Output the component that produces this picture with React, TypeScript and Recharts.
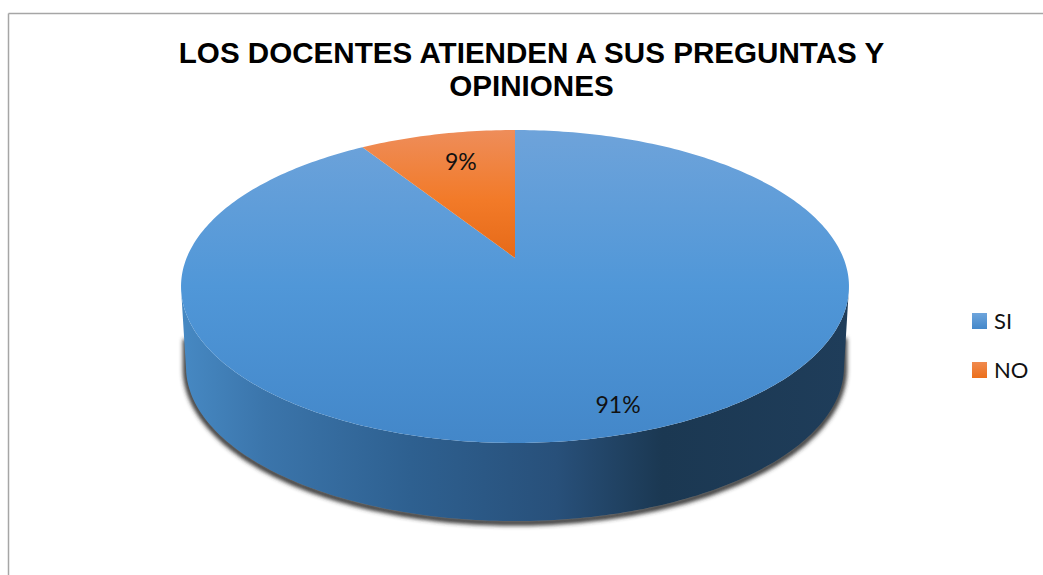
import { Pie, PieChart, Legend } from 'recharts';

const categories = ['SI', 'NO'];
const values = [91, 9];
const data = categories.map((name, i) => ({ name, value: values[i] }));

const titleLines = ['LOS DOCENTES ATIENDEN A SUS PREGUNTAS Y', 'OPINIONES'];

// the pie is seen in perspective, so the circle goes through a small projection
const PERSPECTIVE = 0.182;
const SQUASH = 0.4607;

const project = (cx: number, cy: number, r: number, deg: number) => {
  const a = (deg * Math.PI) / 180;
  const w = 1 + PERSPECTIVE * Math.sin(a);
  return {
    x: cx + (r * Math.cos(a)) / w,
    y: cy - (r * SQUASH * Math.sin(a)) / w,
  };
};

const arcAngles = (start: number, end: number) => {
  const steps = Math.max(2, Math.ceil(Math.abs(end - start)));
  return Array.from({ length: steps + 1 }, (_, i) => start + ((end - start) * i) / steps);
};

function TopSlice(props: any) {
  const { cx, cy, outerRadius, startAngle, endAngle, payload } = props;
  const pts = arcAngles(startAngle, endAngle).map((a) => project(cx, cy, outerRadius, a));
  const d = `M${cx},${cy} ` + pts.map((p) => `L${p.x},${p.y}`).join(' ') + ' Z';
  return <path d={d} fill={payload.name === 'SI' ? 'url(#topBlue)' : 'url(#topOrange)'} />;
}

// front wall of the slice, only the part of the rim that faces the viewer
function SideSlice(props: any) {
  const { cx, cy, outerRadius, startAngle, endAngle } = props;
  const angles = arcAngles(startAngle, endAngle).filter(
    (a) => Math.sin((a * Math.PI) / 180) < -PERSPECTIVE,
  );
  if (angles.length < 2) return null;
  const top = angles.map((a) => project(cx, cy, outerRadius, a));
  const bottom = top.map((p) => ({
    x: cx + 0.985 * (p.x - cx),
    y: cy + 109 + 0.985 * (p.y - cy - 28.5),
  }));
  const wall =
    top.map((p, i) => `${i ? 'L' : 'M'}${p.x},${p.y}`).join(' ') +
    ' ' +
    [...bottom].reverse().map((p) => `L${p.x},${p.y}`).join(' ') +
    ' Z';
  // shadow runs a bit up the two ends of the wall
  const first = bottom[0];
  const last = bottom[bottom.length - 1];
  const shadow =
    `M${first.x},${first.y - 30} ` +
    bottom.map((p) => `L${p.x},${p.y + 1.5}`).join(' ') +
    ` L${last.x},${last.y - 30}`;
  return (
    <g>
      <path d={shadow} fill="none" stroke="#333333" strokeWidth={6} filter="url(#rimShadow)" />
      <path d={wall} fill="url(#sideBlue)" />
    </g>
  );
}

const RADIAN = Math.PI / 180;

function PercentLabel(props: any) {
  const { cx, cy, outerRadius, midAngle, percent } = props;
  const big = percent > 0.5;
  const reach = big ? 0.855 : 0.756;
  const u = reach * Math.cos(midAngle * RADIAN);
  const v = reach * Math.sin(midAngle * RADIAN);
  const w = 1 + PERSPECTIVE * v;
  return (
    <text
      x={cx + (outerRadius * u) / w + (big ? 11 : 7)}
      y={cy - (outerRadius * SQUASH * v) / w}
      textAnchor="middle"
      dominantBaseline="central"
      fontFamily="Lato"
      fontSize={23}
      fill="#111111"
    >
      {`${Math.round(percent * 100)}%`}
    </text>
  );
}

const swatches: Record<string, string> = {
  SI: 'linear-gradient(#6ea5dc, #4488ca)',
  NO: 'linear-gradient(#f08a4e, #ec6f1b)',
};

function LegendList({ payload }: any) {
  const names = (payload ?? []).map((entry: any) => entry.value);
  return (
    <div>
      {categories.filter((name) => names.includes(name)).map((name) => (
        <div
          key={name}
          style={{ display: 'flex', alignItems: 'center', height: 49, fontFamily: 'Lato', fontSize: 22, color: '#111111' }}
        >
          <span style={{ width: 15, height: 16, marginRight: 7, background: swatches[name] }} />
          {name}
        </div>
      ))}
    </div>
  );
}

export default function App() {
  return (
    <div style={{ position: 'absolute', left: 0, top: 0, width: 1043, height: 575, background: '#ffffff' }}>
      <PieChart width={1043} height={575} margin={{ top: 0, right: 0, bottom: 0, left: 0 }}>
        <defs>
          <linearGradient id="topBlue" gradientUnits="userSpaceOnUse" x1="0" y1="130" x2="0" y2="443">
            <stop offset="0" stopColor="#6ea3da" />
            <stop offset="0.5" stopColor="#5097d8" />
            <stop offset="1" stopColor="#4387c9" />
          </linearGradient>
          <linearGradient id="topOrange" gradientUnits="userSpaceOnUse" x1="0" y1="130" x2="0" y2="258">
            <stop offset="0" stopColor="#ee8d5a" />
            <stop offset="0.55" stopColor="#f27a28" />
            <stop offset="1" stopColor="#e66a18" />
          </linearGradient>
          <linearGradient id="sideBlue" gradientUnits="userSpaceOnUse" x1="185" y1="0" x2="848" y2="0">
            <stop offset="0" stopColor="#4688c2" />
            <stop offset="0.12" stopColor="#3b75ab" />
            <stop offset="0.34" stopColor="#2e6090" />
            <stop offset="0.56" stopColor="#28507a" />
            <stop offset="0.72" stopColor="#1b3852" />
            <stop offset="1" stopColor="#1f3d5a" />
          </linearGradient>
          <filter id="rimShadow" x="-5%" y="-20%" width="110%" height="140%">
            <feGaussianBlur stdDeviation="2" />
          </filter>
        </defs>

        <line x1={8.5} y1={13.5} x2={1043} y2={13.5} stroke="#a6a6a6" strokeWidth={1.5} />
        <line x1={8.5} y1={13.5} x2={8.5} y2={575} stroke="#a6a6a6" strokeWidth={1.5} />

        {titleLines.map((line, i) => (
          <text
            key={line}
            x={531.5}
            y={63 + i * 33}
            textAnchor="middle"
            fontFamily="Liberation Sans"
            fontWeight={700}
            fontSize={29.6}
            fill="#000000"
          >
            {line}
          </text>
        ))}

        <Pie
          data={data}
          dataKey="value"
          nameKey="name"
          cx={515}
          cy={258}
          outerRadius={328.4}
          startAngle={90}
          endAngle={-270}
          stroke="none"
          legendType="none"
          shape={SideSlice}
          isAnimationActive={false}
        />
        <Pie
          data={data}
          dataKey="value"
          nameKey="name"
          cx={515}
          cy={258}
          outerRadius={328.4}
          startAngle={90}
          endAngle={-270}
          stroke="none"
          shape={TopSlice}
          label={PercentLabel}
          labelLine={false}
          isAnimationActive={false}
        />
        <Legend
          layout="vertical"
          content={LegendList}
          wrapperStyle={{ position: 'absolute', left: 972, top: 296, width: 70 }}
        />
      </PieChart>
    </div>
  );
}
